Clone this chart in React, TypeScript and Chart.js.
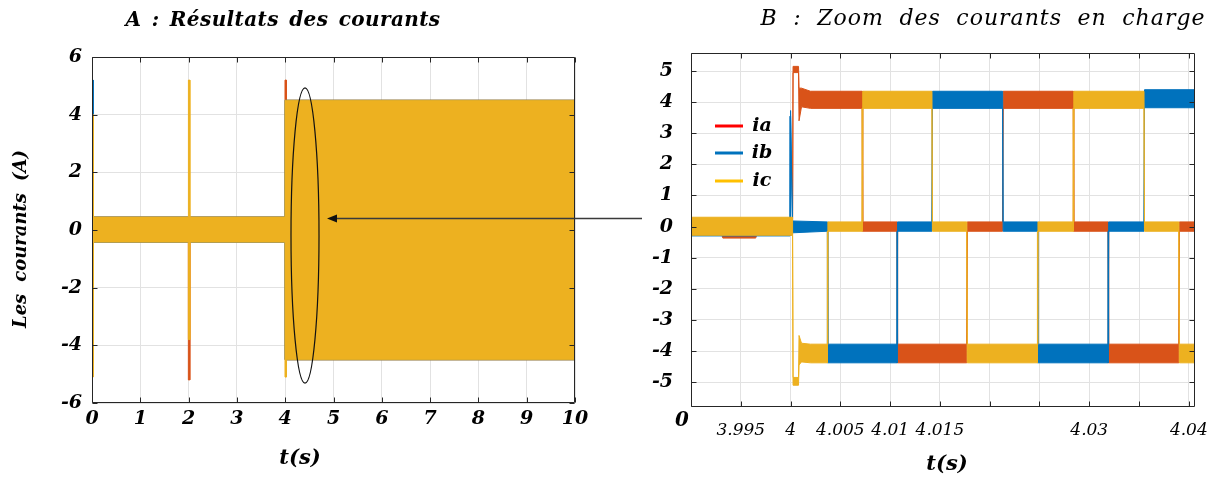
import React, { useEffect, useRef } from "react";
import { Chart, registerables } from "chart.js";

Chart.register(...registerables);

// ---------- colours ----------
const COLOR_IA = "#D95319";
const COLOR_IB = "#0072BD";
const COLOR_IC = "#EDB120";
const LEGEND_LABELS = ["ia", "ib", "ic"];
const LEGEND_COLORS = ["#FF0000", "#0072BD", "#FFC000"];

// ---------- Panel A : full run ----------
const A_TITLE = "A : Résultats des courants";
const A_YLABEL = "Les courants (A)";
const A_XLABEL = "t(s)";
const A_X_TICKS = [0, 1, 2, 3, 4, 5, 6, 7, 8, 9, 10];
const A_Y_TICKS = [-6, -4, -2, 0, 2, 4, 6];
// envelope of each (dense, noisy) current: time, upper edge, lower edge
const A_T = [0, 0.025, 0.026, 1.995, 1.996, 2.025, 2.026, 3.995, 3.996, 4.025, 4.026, 10];
const A_IA_HI = [0.45, 0.45, 0.45, 0.45, 0.45, 0.45, 0.45, 0.45, 5.2, 5.2, 4.5, 4.5];
const A_IA_LO = [-4.6, -4.6, -0.42, -0.42, -5.2, -5.2, -0.42, -0.42, -4.5, -4.5, -4.5, -4.5];
const A_IB_HI = [5.2, 5.2, 0.45, 0.45, 0.45, 0.45, 0.45, 0.45, 4.5, 4.5, 4.5, 4.5];
const A_IB_LO = [-4.2, -4.2, -0.42, -0.42, -0.42, -0.42, -0.42, -0.42, -4.5, -4.5, -4.5, -4.5];
const A_IC_HI = [4.0, 4.0, 0.45, 0.45, 5.2, 5.2, 0.45, 0.45, 4.5, 4.5, 4.5, 4.5];
const A_IC_LO = [-5.1, -5.1, -0.42, -0.42, -3.8, -3.8, -0.42, -0.42, -5.1, -5.1, -4.5, -4.5];
// zoom annotation (ellipse in data units, arrow tip in data units)
const ELLIPSE = { t: 4.41, v: -0.19, dt: 0.29, dv: 5.12 };
const ARROW_TIP = { t: 4.865, v: 0.42 };
const ARROW_TAIL_PX = 642;

// ---------- Panel B : zoom on load step ----------
const B_TITLE = "B : Zoom des courants en charge";
const B_XLABEL = "t(s)";
const B_ORIGIN_LABEL = "0";
const B_X_TICKS = [3.99, 3.995, 4.0, 4.005, 4.01, 4.015, 4.02, 4.025, 4.03, 4.035, 4.04];
const B_X_LABELS = ["", "3.995", "4", "4.005", "4.01", "4.015", "", "", "4.03", "", "4.04"];
const B_Y_TICKS = [-5, -4, -3, -2, -1, 0, 1, 2, 3, 4, 5];

const B_IA_T = [3.99, 3.9931, 3.9932, 3.9965, 3.9966, 4.0002, 4.00025, 4.0008, 4.00085, 4.0011, 4.002, 4.0072, 4.00725, 4.0107, 4.01075, 4.0177, 4.01775, 4.0213, 4.02135, 4.0284, 4.02845, 4.0319, 4.03195, 4.039, 4.03905, 4.0406];
const B_IA_HI = [0.24, 0.24, 0.24, 0.24, 0.24, 0.24, 5.15, 5.15, 4.45, 4.45, 4.35, 4.35, 0.15, 0.15, -3.78, -3.78, 0.15, 0.15, 4.35, 4.35, 0.15, 0.15, -3.78, -3.78, 0.15, 0.15];
const B_IA_LO = [-0.27, -0.27, -0.37, -0.37, -0.27, -0.27, 4.95, 4.95, 3.4, 3.85, 3.8, 3.8, -0.15, -0.15, -4.38, -4.38, -0.15, -0.15, 3.8, 3.8, -0.15, -0.15, -4.38, -4.38, -0.15, -0.15];

const B_IB_T = [3.99, 3.99995, 4.0, 4.0002, 4.0037, 4.00375, 4.0107, 4.01075, 4.0142, 4.01425, 4.0213, 4.02135, 4.0248, 4.02485, 4.0319, 4.03195, 4.0355, 4.03555, 4.0406];
const B_IB_HI = [0.26, 0.26, 3.73, 0.18, 0.15, -3.78, -3.78, 0.15, 0.15, 4.35, 4.35, 0.15, 0.15, -3.78, -3.78, 0.15, 0.15, 4.4, 4.4];
const B_IB_LO = [-0.3, -0.3, 3.55, -0.2, -0.15, -4.38, -4.38, -0.15, -0.15, 3.8, 3.8, -0.15, -0.15, -4.38, -4.38, -0.15, -0.15, 3.82, 3.82];

const B_IC_T = [3.99, 4.0002, 4.00025, 4.0008, 4.00085, 4.0011, 4.002, 4.0037, 4.00375, 4.0072, 4.00725, 4.0142, 4.01425, 4.0177, 4.01775, 4.0248, 4.02485, 4.0284, 4.02845, 4.0355, 4.03555, 4.039, 4.03905, 4.0406];
const B_IC_HI = [0.3, 0.3, -4.85, -4.85, -3.5, -3.75, -3.78, -3.78, 0.15, 0.15, 4.35, 4.35, 0.15, 0.15, -3.78, -3.78, 0.15, 0.15, 4.35, 4.35, 0.15, 0.15, -3.78, -3.78];
const B_IC_LO = [-0.28, -0.28, -5.1, -5.1, -4.45, -4.35, -4.38, -4.38, -0.15, -0.15, 3.8, 3.8, -0.15, -0.15, -4.38, -4.38, -0.15, -0.15, 3.8, 3.8, -0.15, -0.15, -4.38, -4.38];

// ---------- helpers ----------
const FAMILY = '"DejaVu Serif"';
const GRID = "#e2e2e2";
const AXIS = "#262626";

function band(label: string, T: number[], HI: number[], LO: number[], color: string, order: number) {
  const pts = T.map((t, i) => ({ x: t, y: HI[i] }));
  for (let i = T.length - 1; i >= 0; i--) pts.push({ x: T[i], y: LO[i] });
  return {
    label,
    data: pts,
    borderColor: color,
    backgroundColor: color,
    borderWidth: 1,
    borderJoinStyle: "bevel",
    pointRadius: 0,
    tension: 0,
    fill: "shape",
    order,
  };
}

type TextItem = { text: string; x: number; y: number; size: number; bold?: boolean; width?: number; letter?: number; rotate?: boolean };

function drawTexts(ctx: CanvasRenderingContext2D, items: TextItem[]) {
  for (const it of items) {
    ctx.save();
    ctx.font = `italic ${it.bold ? "bold " : ""}${it.size}px ${FAMILY}`;
    ctx.fillStyle = "#000";
    ctx.textBaseline = "middle";
    ctx.translate(it.x, it.y);
    if (it.rotate) ctx.rotate(-Math.PI / 2);
    if (it.width) {
      const c = ctx as any;
      const letter = it.letter || 0;
      c.letterSpacing = `${letter}px`;
      const w0 = ctx.measureText(it.text).width;
      const spaces = (it.text.match(/ /g) || []).length;
      const extra = Math.max(0, it.width - w0);
      if (spaces > 0) c.wordSpacing = `${(extra / spaces).toFixed(2)}px`;
      const wUsed = spaces > 0 ? w0 + extra : w0;
      ctx.textAlign = "left";
      ctx.fillText(it.text, -wUsed / 2, 0);
    } else {
      ctx.textAlign = "center";
      ctx.fillText(it.text, 0, 0);
    }
    ctx.restore();
  }
}

function framePlugin(id: string, extra: (chart: any, ctx: CanvasRenderingContext2D) => void) {
  return {
    id,
    afterDraw(chart: any) {
      const { ctx, chartArea: a } = chart;
      const xs = chart.scales.x;
      const ys = chart.scales.y;
      ctx.save();
      ctx.strokeStyle = AXIS;
      ctx.lineWidth = 1;
      const L = Math.round(a.left) + 0.5;
      const R = Math.round(a.right) - 0.5;
      const T = Math.round(a.top) + 0.5;
      const B = Math.round(a.bottom) - 0.5;
      ctx.beginPath();
      ctx.rect(L, T, R - L, B - T);
      for (const t of xs.ticks) {
        const p = Math.round(xs.getPixelForValue(t.value)) + 0.5;
        ctx.moveTo(p, B);
        ctx.lineTo(p, B - 5);
        ctx.moveTo(p, T);
        ctx.lineTo(p, T + 5);
      }
      for (const t of ys.ticks) {
        const p = Math.round(ys.getPixelForValue(t.value)) + 0.5;
        ctx.moveTo(L, p);
        ctx.lineTo(L + 5, p);
        ctx.moveTo(R, p);
        ctx.lineTo(R - 5, p);
      }
      ctx.stroke();
      ctx.restore();
      extra(chart, ctx);
    },
  };
}

function axisFont(size: number, bold: boolean) {
  return { family: FAMILY, size, style: "italic" as const, weight: bold ? "bold" : "normal" };
}

function configA(): any {
  return {
    type: "line",
    data: {
      datasets: [
        band("ia", A_T, A_IA_HI, A_IA_LO, COLOR_IA, 3),
        band("ib", A_T, A_IB_HI, A_IB_LO, COLOR_IB, 2),
        band("ic", A_T, A_IC_HI, A_IC_LO, COLOR_IC, 1),
      ],
    },
    options: {
      animation: false,
      responsive: false,
      devicePixelRatio: 1,
      events: [],
      layout: { padding: { left: 0, right: 85, top: 57, bottom: 0 } },
      plugins: { legend: { display: false }, title: { display: false }, tooltip: { enabled: false } },
      scales: {
        x: {
          type: "linear",
          min: 0,
          max: 10,
          afterBuildTicks: (s: any) => { s.ticks = A_X_TICKS.map((v) => ({ value: v })); },
          afterFit: (s: any) => { s.height = 81; },
          grid: { color: GRID, drawTicks: false },
          border: { display: false },
          ticks: { padding: 5, color: "#000", font: axisFont(19, true), maxRotation: 0, autoSkip: false, callback: (v: any) => String(v) },
        },
        y: {
          type: "linear",
          min: -6,
          max: 6,
          afterBuildTicks: (s: any) => { s.ticks = A_Y_TICKS.map((v) => ({ value: v })); },
          afterFit: (s: any) => { s.width = 92; },
          grid: { color: GRID, drawTicks: false },
          border: { display: false },
          ticks: { padding: 10, color: "#000", font: axisFont(19, true), callback: (v: any) => String(v) },
        },
      },
    },
    plugins: [
      framePlugin("frameA", (chart, ctx) => {
        const xs = chart.scales.x;
        const ys = chart.scales.y;
        // ellipse around the load step
        const cx = xs.getPixelForValue(ELLIPSE.t);
        const cy = ys.getPixelForValue(ELLIPSE.v);
        const rx = Math.abs(xs.getPixelForValue(ELLIPSE.t + ELLIPSE.dt) - cx);
        const ry = Math.abs(ys.getPixelForValue(ELLIPSE.v + ELLIPSE.dv) - cy);
        ctx.save();
        ctx.strokeStyle = "#111";
        ctx.lineWidth = 1.2;
        ctx.beginPath();
        ctx.ellipse(cx, cy, rx, ry, 0, 0, Math.PI * 2);
        ctx.stroke();
        // arrow from panel B to the ellipse
        const tx = xs.getPixelForValue(ARROW_TIP.t);
        const ty = Math.round(ys.getPixelForValue(ARROW_TIP.v)) + 0.5;
        ctx.strokeStyle = "#3a3a3a";
        ctx.lineWidth = 1.3;
        ctx.beginPath();
        ctx.moveTo(ARROW_TAIL_PX, ty);
        ctx.lineTo(tx + 8, ty);
        ctx.stroke();
        ctx.fillStyle = "#111";
        ctx.beginPath();
        ctx.moveTo(tx, ty);
        ctx.lineTo(tx + 10, ty - 4);
        ctx.lineTo(tx + 10, ty + 4);
        ctx.closePath();
        ctx.fill();
        ctx.restore();
        drawTexts(ctx, [
          { text: A_TITLE, x: 283, y: 21, size: 20, bold: true, width: 315, letter: 0.4 },
          { text: A_YLABEL, x: 21, y: 239, size: 18, bold: true, width: 178, letter: 0, rotate: true },
          { text: A_XLABEL, x: 300, y: 459, size: 21, bold: true },
        ]);
      }),
    ],
  };
}

function configB(): any {
  return {
    type: "line",
    data: {
      datasets: [
        band("ia", B_IA_T, B_IA_HI, B_IA_LO, COLOR_IA, 3),
        band("ib", B_IB_T, B_IB_HI, B_IB_LO, COLOR_IB, 2),
        band("ic", B_IC_T, B_IC_HI, B_IC_LO, COLOR_IC, 1),
      ],
    },
    options: {
      animation: false,
      responsive: false,
      devicePixelRatio: 1,
      events: [],
      layout: { padding: { left: 0, right: 23, top: 53, bottom: 0 } },
      plugins: { legend: { display: false }, title: { display: false }, tooltip: { enabled: false } },
      scales: {
        x: {
          type: "linear",
          min: 3.99,
          max: 4.0406,
          afterBuildTicks: (s: any) => { s.ticks = B_X_TICKS.map((v) => ({ value: v })); },
          afterFit: (s: any) => { s.height = 77; },
          grid: { color: GRID, drawTicks: false },
          border: { display: false },
          ticks: { padding: 13, color: "#000", font: axisFont(17, false), maxRotation: 0, autoSkip: false, callback: (_v: any, i: number) => B_X_LABELS[i] },
        },
        y: {
          type: "linear",
          min: -5.8,
          max: 5.58,
          afterBuildTicks: (s: any) => { s.ticks = B_Y_TICKS.map((v) => ({ value: v })); },
          afterFit: (s: any) => { s.width = 81; },
          grid: { color: GRID, drawTicks: false },
          border: { display: false },
          ticks: { padding: 18, color: "#000", font: axisFont(19, true), callback: (v: any) => String(v) },
        },
      },
    },
    plugins: [
      framePlugin("frameB", (chart, ctx) => {
        // legend
        const rows = [126, 153, 181];
        ctx.save();
        ctx.lineWidth = 3;
        LEGEND_LABELS.forEach((_lab, i) => {
          ctx.strokeStyle = LEGEND_COLORS[i];
          ctx.beginPath();
          ctx.moveTo(105, rows[i]);
          ctx.lineTo(133, rows[i]);
          ctx.stroke();
        });
        ctx.restore();
        drawTexts(ctx, LEGEND_LABELS.map((lab, i) => ({ text: lab, x: 152, y: rows[i], size: 19, bold: true })));
        drawTexts(ctx, [
          { text: B_TITLE, x: 373, y: 19, size: 22, bold: false, width: 445, letter: 1 },
          { text: B_XLABEL, x: 337, y: 465, size: 21, bold: true },
          { text: B_ORIGIN_LABEL, x: 72, y: 421, size: 20, bold: true },
        ]);
      }),
    ],
  };
}

export default function App() {
  const refA = useRef<HTMLCanvasElement>(null);
  const refB = useRef<HTMLCanvasElement>(null);
  useEffect(() => {
    const a = new Chart(refA.current as HTMLCanvasElement, configA());
    const b = new Chart(refB.current as HTMLCanvasElement, configB());
    return () => {
      a.destroy();
      b.destroy();
    };
  }, []);
  return (
    <div style={{ position: "absolute", left: 0, top: 0, width: 1221, height: 484, background: "#fff", overflow: "hidden" }}>
      <canvas ref={refA} width={660} height={484} style={{ position: "absolute", left: 0, top: 0, width: 660, height: 484 }} />
      <canvas ref={refB} width={611} height={484} style={{ position: "absolute", left: 610, top: 0, width: 611, height: 484 }} />
    </div>
  );
}
